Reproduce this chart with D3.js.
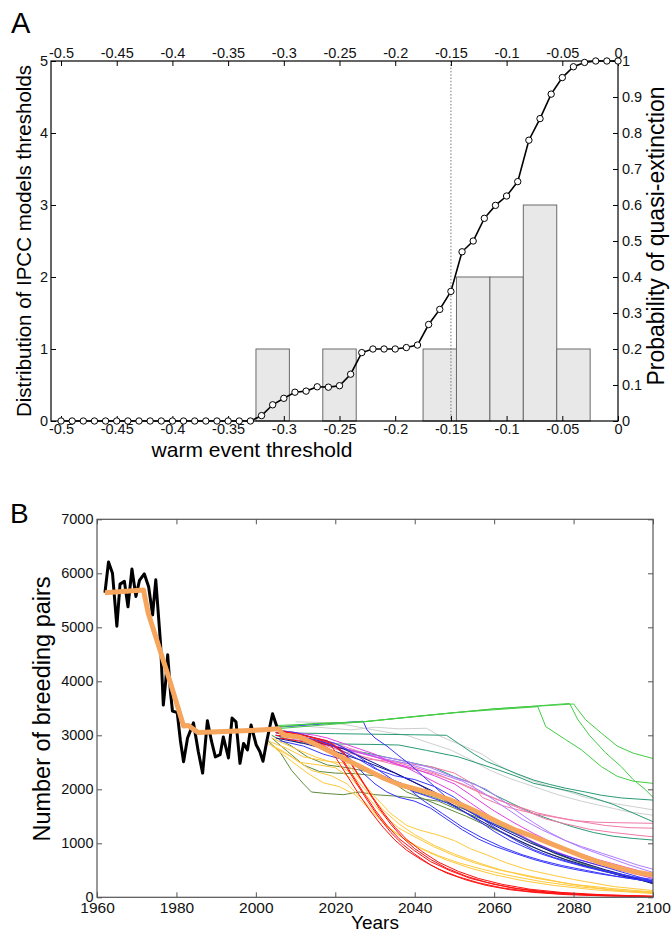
<!DOCTYPE html>
<html><head><meta charset="utf-8">
<script src="https://cdn.jsdelivr.net/npm/d3@7"></script>
<style>body{margin:0;background:#fff} text{font-family:"Liberation Sans",Arial,Helvetica,sans-serif}</style>
</head><body><svg id="c" width="671" height="933"></svg>
<script>
// ---------- Panel A data ----------
const thresholds = [-0.50,-0.49,-0.48,-0.47,-0.46,-0.45,-0.44,-0.43,-0.42,-0.41,-0.40,-0.39,-0.38,-0.37,-0.36,-0.35,-0.34,-0.33,-0.32,-0.31,-0.30,-0.29,-0.28,-0.27,-0.26,-0.25,-0.24,-0.23,-0.22,-0.21,-0.20,-0.19,-0.18,-0.17,-0.16,-0.15,-0.14,-0.13,-0.12,-0.11,-0.10,-0.09,-0.08,-0.07,-0.06,-0.05,-0.04,-0.03,-0.02,-0.01,0];
const extinctionProb = [0,0,0,0,0,0,0,0,0,0,0,0,0,0,0,0,0,0,0.015,0.045,0.063,0.080,0.083,0.095,0.094,0.098,0.13,0.19,0.20,0.20,0.20,0.204,0.211,0.268,0.31,0.36,0.47,0.50,0.563,0.599,0.625,0.665,0.78,0.84,0.908,0.954,0.984,0.996,1,1,1];
const binStarts = [-0.325,-0.295,-0.265,-0.235,-0.205,-0.175,-0.145,-0.115,-0.085,-0.055];
const binCounts = [1,0,1,0,0,1,2,2,3,1];
const binWidth = 0.03;
const ipccLine = -0.15;
const xTicksA = [-0.5,-0.45,-0.4,-0.35,-0.3,-0.25,-0.2,-0.15,-0.1,-0.05,0];
const leftTicksA = [0,1,2,3,4,5];
const rightTicksA = [0,0.1,0.2,0.3,0.4,0.5,0.6,0.7,0.8,0.9,1];

// ---------- Panel B data ----------
const observedYears = [1962.0,1962.9,1963.9,1965.0,1965.8,1966.9,1967.8,1968.8,1969.8,1970.7,1971.9,1973.0,1974.0,1974.8,1976.0,1976.7,1977.3,1977.8,1978.5,1979.0,1980.2,1981.0,1981.8,1982.8,1984.3,1985.5,1986.6,1987.8,1988.8,1989.8,1991.0,1991.8,1993.1,1994.0,1995.0,1996.0,1996.9,1997.9,1998.8,2000.1,2001.0,2001.8,2002.8,2004.2,2005.3];
const observedPairs = [5640,6210,6000,5020,5800,5850,5380,6080,5570,5870,5990,5750,5230,5880,4700,3560,4000,4490,3800,3450,3420,2900,2510,2950,3230,2700,2300,3270,2900,2600,2640,2970,2580,3320,3250,2480,2850,2730,3190,2820,2700,2520,2910,3400,3160];
const fitYears = [1962,1971.7,1972.9,1978.4,1981.8,1983,1985.5,2001,2005.7,2006.9,2011.2,2015.4,2019.6,2023.8,2028,2032.2,2036.4,2040.6,2044.8,2049,2053.2,2057.4,2061.6,2065.8,2069.9,2074.1,2078.3,2082.5,2086.7,2090.9,2095.1,2100];
const fitPairs = [5640,5690,5260,3990,3172,3180,3050,3098,3120,3005,2963,2820,2667,2511,2357,2204,2080,2000,1913,1802,1667,1524,1370,1233,1122,1000,876,752,641,556,474,410];

const greyRuns = [
 [[2005,3150],[2012,3170],[2024,3100],[2030,3150],[2036,3120],[2043,3130],[2046,3000],[2049,2900],[2053,2780],[2057,2650],[2061,2450],[2065,2300],[2070,2150],[2074,2050],[2079,1950],[2083,1850],[2090,1740],[2095,1680],[2100,1620]],
 [[2010,3250],[2020,3230],[2032,3070],[2038,3000],[2044,2850],[2049,2730],[2054,2550],[2059,2350],[2064,2200],[2070,2050],[2076,1900],[2082,1780],[2088,1680],[2094,1580],[2100,1520]]
];
const tealRuns = [
 [[2005,3100],[2011,3040],[2020,3030],[2030,3020],[2040,3010],[2048,3000],[2051,2850],[2055,2650],[2058,2520],[2062,2400],[2066,2280],[2070,2170],[2074,2090],[2078,2020],[2083,1950],[2087,1890],[2092,1840],[2100,1800]],
 [[2005,3000],[2011,2860],[2020,2840],[2030,2830],[2036,2820],[2043,2720],[2051,2600],[2056,2480],[2061,2360],[2066,2230],[2070,2110],[2075,2030],[2080,1950],[2085,1840],[2090,1720],[2095,1560],[2100,1400]],
 [[2005,3050],[2015,2900],[2022,2750],[2028,2670],[2035,2560],[2040,2480],[2045,2400],[2050,2230],[2055,2100],[2060,1900],[2065,1720],[2070,1550],[2075,1420],[2080,1300],[2085,1200],[2090,1130],[2095,1090],[2100,1060]]
];
const pinkRuns = [
 [[2005,3100],[2012,3000],[2020,2850],[2028,2560],[2036,2500],[2044,2420],[2050,2300],[2054,2130],[2057,1850],[2062,1700],[2066,1620],[2070,1550],[2074,1500],[2080,1420],[2086,1390],[2092,1380],[2100,1370]],
 [[2005,3050],[2013,2950],[2022,2800],[2030,2600],[2038,2450],[2045,2300],[2050,2150],[2056,1950],[2061,1800],[2066,1680],[2071,1560],[2076,1480],[2082,1400],[2088,1330],[2094,1290],[2100,1280]],
 [[2006,3000],[2014,2900],[2022,2700],[2030,2550],[2038,2400],[2045,2280],[2052,2100],[2058,1900],[2062,1780],[2068,1600],[2073,1450],[2078,1360],[2084,1260],[2090,1200],[2096,1150],[2100,1120]]
];
const purpleRuns = [
 [[2005,3000],[2012,2950],[2020,2800],[2028,2650],[2036,2550],[2044,2400],[2049,2250],[2054,2120],[2058,2000],[2062,1800],[2066,1580],[2070,1380],[2074,1200],[2078,1050],[2082,940],[2087,820],[2092,700],[2096,600],[2100,520]],
 [[2006,2950],[2014,2880],[2022,2750],[2030,2600],[2038,2480],[2046,2300],[2052,2150],[2057,1950],[2062,1700],[2067,1450],[2072,1250],[2077,1080],[2082,920],[2088,760],[2094,600],[2100,460]]
];
const magentaRuns = [
 [[2005,3100],[2010,3050],[2015,3000],[2018,2950],[2022,2850],[2026,2750],[2030,2650],[2034,2500],[2038,2400],[2042,2250],[2046,2100],[2050,1950],[2054,1750],[2058,1550],[2062,1350],[2066,1180],[2070,1020],[2075,860],[2080,730],[2086,600],[2093,480],[2100,350]],
 [[2006,3000],[2012,2950],[2016,2850],[2020,2800],[2025,2700],[2030,2600],[2035,2480],[2040,2380],[2045,2250],[2050,2100],[2055,1850],[2060,1600],[2065,1380],[2070,1180],[2075,1000],[2080,850],[2086,700],[2093,560],[2100,420]]
];
const oliveRuns = [
 [[2003,2900],[2006,2700],[2009,2350],[2012,2100],[2014,1950],[2018,1920],[2022,1900],[2026,1950],[2030,1900],[2036,1870],[2042,1820],[2046,1780],[2050,1650],[2054,1530],[2058,1420],[2062,1300],[2066,1160],[2070,1000],[2075,850],[2080,690],[2086,540],[2092,420],[2100,290]],
 [[2004,2950],[2008,2700],[2012,2450],[2016,2330],[2020,2300],[2025,2290],[2030,2250],[2035,2100],[2040,1960],[2045,1850],[2050,1700],[2055,1560],[2060,1390],[2065,1200],[2070,1000],[2075,820],[2080,680],[2086,530],[2092,400],[2100,260]],
 [[2004,3000],[2009,2800],[2013,2600],[2018,2450],[2023,2400],[2028,2330],[2033,2200],[2038,1950],[2043,1800],[2048,1650],[2053,1500],[2058,1330],[2063,1160],[2068,980],[2074,800],[2080,640],[2087,490],[2094,370],[2100,300]]
];
const yellowRuns = [
 [[2003,2850],[2007,2700],[2011,2500],[2016,2450],[2020,2400],[2024,2200],[2028,1870],[2032,1530],[2036,1280],[2040,1120],[2045,930],[2050,770],[2055,640],[2061,510],[2066,440],[2070,380],[2078,260],[2086,170],[2093,120],[2100,85]],
 [[2003,2900],[2008,2750],[2012,2600],[2018,2520],[2023,2480],[2026,2200],[2030,1860],[2034,1550],[2038,1330],[2041,1250],[2046,1150],[2050,1050],[2054,900],[2058,790],[2063,640],[2068,520],[2074,420],[2080,330],[2090,200],[2100,125]],
 [[2004,2800],[2009,2600],[2014,2350],[2019,2250],[2023,2100],[2027,1800],[2031,1480],[2035,1200],[2039,1000],[2043,850],[2048,690],[2054,540],[2060,420],[2067,310],[2075,220],[2085,140],[2100,70]],
 [[2004,2950],[2010,2750],[2015,2600],[2020,2480],[2024,2300],[2028,1950],[2032,1620],[2036,1360],[2040,1160],[2045,960],[2050,800],[2056,640],[2062,500],[2070,360],[2080,240],[2090,160],[2100,100]],
 [[2005,2750],[2009,2520],[2013,2300],[2017,2120],[2021,2050],[2025,1900],[2029,1600],[2033,1320],[2037,1100],[2041,930],[2046,770],[2051,640],[2057,520],[2064,400],[2072,290],[2082,190],[2092,120],[2100,90]]
];
const navyRuns = [
 [[2005,2950],[2012,2850],[2020,2700],[2028,2500],[2035,2300],[2042,2050],[2048,1780],[2054,1520],[2060,1280],[2066,1060],[2072,860],[2078,700],[2085,540],[2092,400],[2100,270]],
 [[2006,3000],[2014,2900],[2022,2750],[2030,2480],[2038,2200],[2045,1950],[2051,1700],[2057,1450],[2063,1220],[2069,1010],[2075,830],[2081,670],[2088,510],[2094,390],[2100,250]]
];
const blueRuns = [
 [[2005,3150],[2015,3200],[2027,3260],[2028,3100],[2030,2950],[2033,2800],[2036,2620],[2039,2450],[2042,2250],[2045,2050],[2048,1850],[2052,1660],[2056,1500],[2061,1320],[2066,1150],[2071,980],[2076,820],[2081,700],[2087,580],[2093,450],[2100,300]],
 [[2005,3050],[2010,3000],[2016,2900],[2020,2800],[2024,2550],[2027,2300],[2030,2100],[2033,1950],[2036,1850],[2040,1780],[2044,1650],[2048,1450],[2052,1250],[2056,1080],[2060,950],[2065,820],[2070,700],[2075,600],[2080,520],[2086,440],[2093,360],[2100,290]],
 [[2004,3100],[2010,3050],[2015,2950],[2020,2850],[2024,2700],[2028,2500],[2032,2300],[2036,2100],[2040,1950],[2044,1850],[2048,1750],[2052,1600],[2056,1420],[2060,1220],[2064,1050],[2068,920],[2072,800],[2077,680],[2083,560],[2090,440],[2100,300]],
 [[2005,3000],[2012,2950],[2018,2850],[2022,2700],[2026,2550],[2030,2380],[2035,2250],[2040,2180],[2045,2050],[2050,1850],[2054,1620],[2058,1400],[2062,1200],[2066,1030],[2070,880],[2075,740],[2081,610],[2088,490],[2095,380],[2100,330]],
 [[2006,2900],[2012,2800],[2017,2650],[2022,2550],[2027,2400],[2032,2250],[2037,2100],[2042,1800],[2047,1550],[2052,1300],[2057,1100],[2062,930],[2067,790],[2072,680],[2077,590],[2083,500],[2090,400],[2100,280]]
];
const redRuns = [
 [[2005,3050],[2010,2980],[2015,2900],[2019,2800],[2022,2500],[2025,2150],[2028,1800],[2031,1480],[2034,1200],[2037,980],[2040,800],[2044,600],[2048,450],[2053,320],[2058,220],[2064,140],[2070,90],[2078,50],[2088,25],[2100,10]],
 [[2005,3100],[2012,3000],[2018,2900],[2022,2700],[2025,2350],[2028,2000],[2031,1650],[2034,1350],[2037,1100],[2040,900],[2044,700],[2048,540],[2053,390],[2058,280],[2064,180],[2070,115],[2078,65],[2088,35],[2100,15]],
 [[2006,2950],[2012,2880],[2017,2780],[2020,2600],[2023,2250],[2026,1900],[2029,1580],[2032,1300],[2035,1060],[2038,870],[2042,680],[2046,520],[2051,380],[2056,270],[2062,175],[2068,115],[2076,65],[2086,35],[2100,12]],
 [[2005,3000],[2011,2950],[2016,2850],[2021,2650],[2024,2300],[2027,1950],[2030,1620],[2033,1330],[2036,1090],[2040,860],[2044,660],[2049,490],[2054,350],[2060,240],[2066,160],[2074,95],[2084,50],[2100,18]],
 [[2006,3080],[2013,2980],[2019,2850],[2023,2600],[2026,2250],[2029,1900],[2032,1580],[2035,1300],[2038,1070],[2042,840],[2046,650],[2051,480],[2056,350],[2062,240],[2069,150],[2077,90],[2088,45],[2100,20]]
];
const greenRuns = [
 [[2005,3150],[2015,3220],[2027,3250],[2040,3350],[2050,3420],[2060,3490],[2070,3540],[2079,3590],[2081,3300],[2084,3000],[2088,2680],[2092,2420],[2095,2180],[2098,2000],[2100,1850]],
 [[2005,3120],[2027,3250],[2050,3420],[2071,3530],[2073,3160],[2078,2920],[2082,2730],[2087,2420],[2091,2240],[2095,2150],[2100,2110]],
 [[2005,3180],[2027,3250],[2060,3490],[2080,3580],[2083,3290],[2087,3040],[2091,2800],[2095,2670],[2100,2570]]
];
const xTicksB = [1960,1980,2000,2020,2040,2060,2080,2100];
const yTicksB = [0,1000,2000,3000,4000,5000,6000,7000];

// ---------- styles ----------
const FONT = '"Liberation Sans",Arial,Helvetica,sans-serif';
const runGroups = [
 {runs: greyRuns, color: "#cfcfcf"},
 {runs: tealRuns, color: "#2a9a74"},
 {runs: pinkRuns, color: "#f07aa8"},
 {runs: purpleRuns, color: "#b07cff"},
 {runs: magentaRuns, color: "#e040e0"},
 {runs: oliveRuns, color: "#5e8a3c"},
 {runs: yellowRuns, color: "#ffc93c"},
 {runs: navyRuns, color: "#10108a"},
 {runs: blueRuns, color: "#3535ff"},
 {runs: redRuns, color: "#ff1010"},
 {runs: greenRuns, color: "#44cc44"}
];

const svg = d3.select("#c");

// ================= PANEL A =================
const xA = d3.scaleLinear().domain([-0.509, 0]).range([51, 618]);
const yA = d3.scaleLinear().domain([0, 5]).range([421, 61]);
const yP = d3.scaleLinear().domain([0, 1]).range([421, 61]);
const gA = svg.append("g");

gA.selectAll("rect.bar").data(binStarts.map((s, i) => ({s, c: binCounts[i]})).filter(d => d.c > 0))
  .join("rect").attr("class", "bar")
  .attr("x", d => xA(d.s)).attr("width", d => xA(d.s + binWidth) - xA(d.s))
  .attr("y", d => yA(d.c)).attr("height", d => yA(0) - yA(d.c))
  .attr("fill", "#e8e8e8").attr("stroke", "#6a6a6a").attr("stroke-width", 1);

gA.append("line").attr("x1", xA(ipccLine)).attr("x2", xA(ipccLine))
  .attr("y1", yP(1)).attr("y2", yP(0))
  .attr("stroke", "#777").attr("stroke-width", 1).attr("stroke-dasharray", "1.5,1.8");

function styleAxis(g, size) {
  g.selectAll("text").style("font-family", FONT).style("font-size", size + "px").attr("fill", "#111");
  g.selectAll("line").attr("stroke", "#000");
  g.select(".domain").remove();
}
const fmt = d => String(d);
gA.append("g").attr("transform", "translate(0,421)")
  .call(d3.axisBottom(xA).tickValues(xTicksA).tickFormat(fmt).tickSize(-5).tickPadding(2.5))
  .call(g => styleAxis(g, 14.5));
gA.append("g").attr("transform", "translate(0,61)")
  .call(d3.axisTop(xA).tickValues(xTicksA).tickFormat(fmt).tickSize(-5).tickPadding(3))
  .call(g => styleAxis(g, 14.5));
gA.append("g").attr("transform", "translate(51,0)")
  .call(d3.axisLeft(yA).tickValues(leftTicksA).tickFormat(fmt).tickSize(-5).tickPadding(3))
  .call(g => styleAxis(g, 14.5));
gA.append("g").attr("transform", "translate(618,0)")
  .call(d3.axisRight(yP).tickValues(rightTicksA).tickFormat(fmt).tickSize(-5).tickPadding(4))
  .call(g => styleAxis(g, 14.5));
gA.append("rect").attr("x", 51).attr("y", 61).attr("width", 567).attr("height", 360)
  .attr("fill", "none").attr("stroke", "#000").attr("stroke-width", 1.2);

const probPts = thresholds.map((t, i) => [t, extinctionProb[i]]);
gA.append("path").datum(probPts)
  .attr("d", d3.line().x(d => xA(d[0])).y(d => yP(d[1])))
  .attr("fill", "none").attr("stroke", "#000").attr("stroke-width", 1.6);
gA.selectAll("circle.pt").data(probPts).join("circle").attr("class", "pt")
  .attr("cx", d => xA(d[0])).attr("cy", d => yP(d[1])).attr("r", 3.2)
  .attr("fill", "#fff").attr("stroke", "#000").attr("stroke-width", 1);

svg.append("text").attr("x", 11).attr("y", 33).text("A")
  .style("font-family", FONT).style("font-size", "29px");
svg.append("text").attr("x", 252).attr("y", 457).attr("text-anchor", "middle")
  .text("warm event threshold").style("font-family", FONT).style("font-size", "21px");
svg.append("text").attr("transform", "translate(31,241) rotate(-90)").attr("text-anchor", "middle")
  .text("Distribution of IPCC models thresholds").style("font-family", FONT).style("font-size", "20.5px");
svg.append("text").attr("transform", "translate(664,236) rotate(-90)").attr("text-anchor", "middle")
  .text("Probability of quasi-extinction").style("font-family", FONT).style("font-size", "23px");

// ================= PANEL B =================
const xB = d3.scaleLinear().domain([1960, 2100]).range([97, 653]);
const yB = d3.scaleLinear().domain([0, 7000]).range([897.3, 519.3]);
const gB = svg.append("g");
svg.append("defs").append("clipPath").attr("id", "clipB")
  .append("rect").attr("x", 97).attr("y", 519).attr("width", 556).attr("height", 379);

const lineB = d3.line().x(d => xB(d[0])).y(d => yB(d[1]));
const runsG = gB.append("g").attr("clip-path", "url(#clipB)");
runGroups.forEach(grp => {
  runsG.append("g").selectAll("path").data(grp.runs).join("path")
    .attr("d", lineB).attr("fill", "none").attr("stroke", grp.color).attr("stroke-width", 1);
});
runsG.append("path").datum(observedYears.map((yr, i) => [yr, observedPairs[i]]))
  .attr("d", lineB).attr("fill", "none").attr("stroke", "#000").attr("stroke-width", 3).attr("stroke-linejoin", "round");
runsG.append("path").datum(fitYears.map((yr, i) => [yr, fitPairs[i]]))
  .attr("d", lineB).attr("fill", "none").attr("stroke", "#f6a55c").attr("stroke-width", 5).attr("stroke-linejoin", "round");

function styleAxisB(g, size) {
  g.selectAll("text").style("font-family", FONT).style("font-size", size + "px").attr("fill", "#111");
  g.selectAll("line").attr("stroke", "#555");
  g.select(".domain").remove();
}
gB.append("g").attr("transform", "translate(0,897.3)")
  .call(d3.axisBottom(xB).tickValues(xTicksB).tickFormat(fmt).tickSize(-5).tickPadding(5))
  .call(g => styleAxisB(g, 15.5));
gB.append("g").attr("transform", "translate(0,519.3)")
  .call(d3.axisTop(xB).tickValues(xTicksB).tickFormat("").tickSize(-5))
  .call(g => styleAxisB(g, 15));
gB.append("g").attr("transform", "translate(97,0)")
  .call(d3.axisLeft(yB).tickValues(yTicksB).tickFormat(fmt).tickSize(-5).tickPadding(3.5))
  .call(g => styleAxisB(g, 14.5));
gB.append("g").attr("transform", "translate(653,0)")
  .call(d3.axisRight(yB).tickValues(yTicksB).tickFormat("").tickSize(-5))
  .call(g => styleAxisB(g, 14.5));
gB.append("rect").attr("x", 97).attr("y", 519.3).attr("width", 556).attr("height", 378)
  .attr("fill", "none").attr("stroke", "#555").attr("stroke-width", 1.2);

svg.append("text").attr("x", 10).attr("y", 523).text("B")
  .style("font-family", FONT).style("font-size", "28px");
svg.append("text").attr("transform", "translate(50,709) rotate(-90)").attr("text-anchor", "middle")
  .text("Number of breeding pairs").style("font-family", FONT).style("font-size", "23.5px");
svg.append("text").attr("x", 375).attr("y", 929).attr("text-anchor", "middle")
  .text("Years").style("font-family", FONT).style("font-size", "19px");
</script></body></html>
